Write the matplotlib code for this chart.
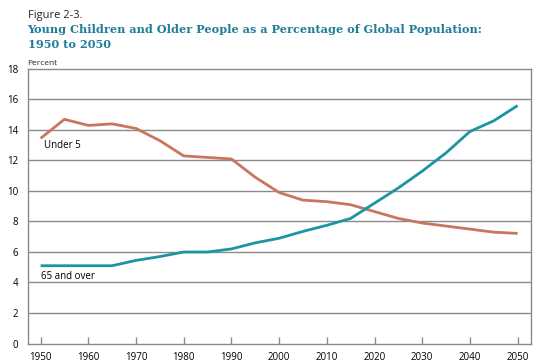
import matplotlib
matplotlib.use("Agg")
import matplotlib.pyplot as plt

years = [1950, 1955, 1960, 1965, 1970, 1975, 1980, 1985, 1990, 1995, 2000,
         2005, 2010, 2015, 2020, 2025, 2030, 2035, 2040, 2045, 2050]
under5 = [13.45, 14.7, 14.3, 14.4, 14.1, 13.3, 12.3, 12.2, 12.1, 10.9, 9.9,
          9.4, 9.3, 9.1, 8.65, 8.2, 7.9, 7.7, 7.5, 7.3, 7.22]
over65 = [5.1, 5.1, 5.1, 5.1, 5.45, 5.7, 6.0, 6.0, 6.2, 6.6, 6.9,
          7.35, 7.75, 8.2, 9.2, 10.2, 11.3, 12.5, 13.9, 14.6, 15.6]
xticks = list(range(1950, 2051, 10))
yticks = list(range(0, 19, 2))

plt.rcParams['font.family'] = ['Open Sans', 'DejaVu Sans']

fig = plt.figure(figsize=(5.5, 3.63), dpi=100)
ax = fig.add_axes([0.0504, 0.0537, 0.915, 0.7563])

grid_c = '#8a8a8a'
for y in yticks[1:-1]:
    ax.axhline(y, color=grid_c, lw=1.0, zorder=1)

ax.plot(years, under5, color='#c8765e', lw=2.0, zorder=3, solid_capstyle='butt')
ax.plot(years, over65, color='#1b94a3', lw=2.0, zorder=3, solid_capstyle='butt')

ax.set_xlim(1947.3, 2052.8)
ax.set_ylim(0, 18)
ax.set_xticks(xticks)
ax.set_yticks(yticks)
ax.tick_params(axis='x', direction='in', length=5, width=1, color=grid_c,
               labelsize=7, pad=6)
ax.tick_params(axis='y', length=0, labelsize=7, pad=7)
for s in ax.spines.values():
    s.set_color(grid_c)
    s.set_linewidth(1.0)

ax.text(1950.8, 12.95, 'Under 5', fontsize=7, va='center', ha='left')
ax.text(1950.0, 4.4, '65 and over', fontsize=7, va='center', ha='left')

fig.text(0.05, 0.957, 'Figure 2-3.', fontsize=8, color='#222222', va='center')
fig.text(0.05, 0.918, 'Young Children and Older People as a Percentage of Global Population:',
         fontsize=8.1, fontweight='bold', family='DejaVu Serif', color='#1f7d98', va='center')
fig.text(0.05, 0.877, '1950 to 2050',
         fontsize=8.1, fontweight='bold', family='DejaVu Serif', color='#1f7d98', va='center')
fig.text(0.05, 0.826, 'Percent', fontsize=6, color='#222222', va='center')

fig.savefig('out.png', dpi=100, facecolor='white')
